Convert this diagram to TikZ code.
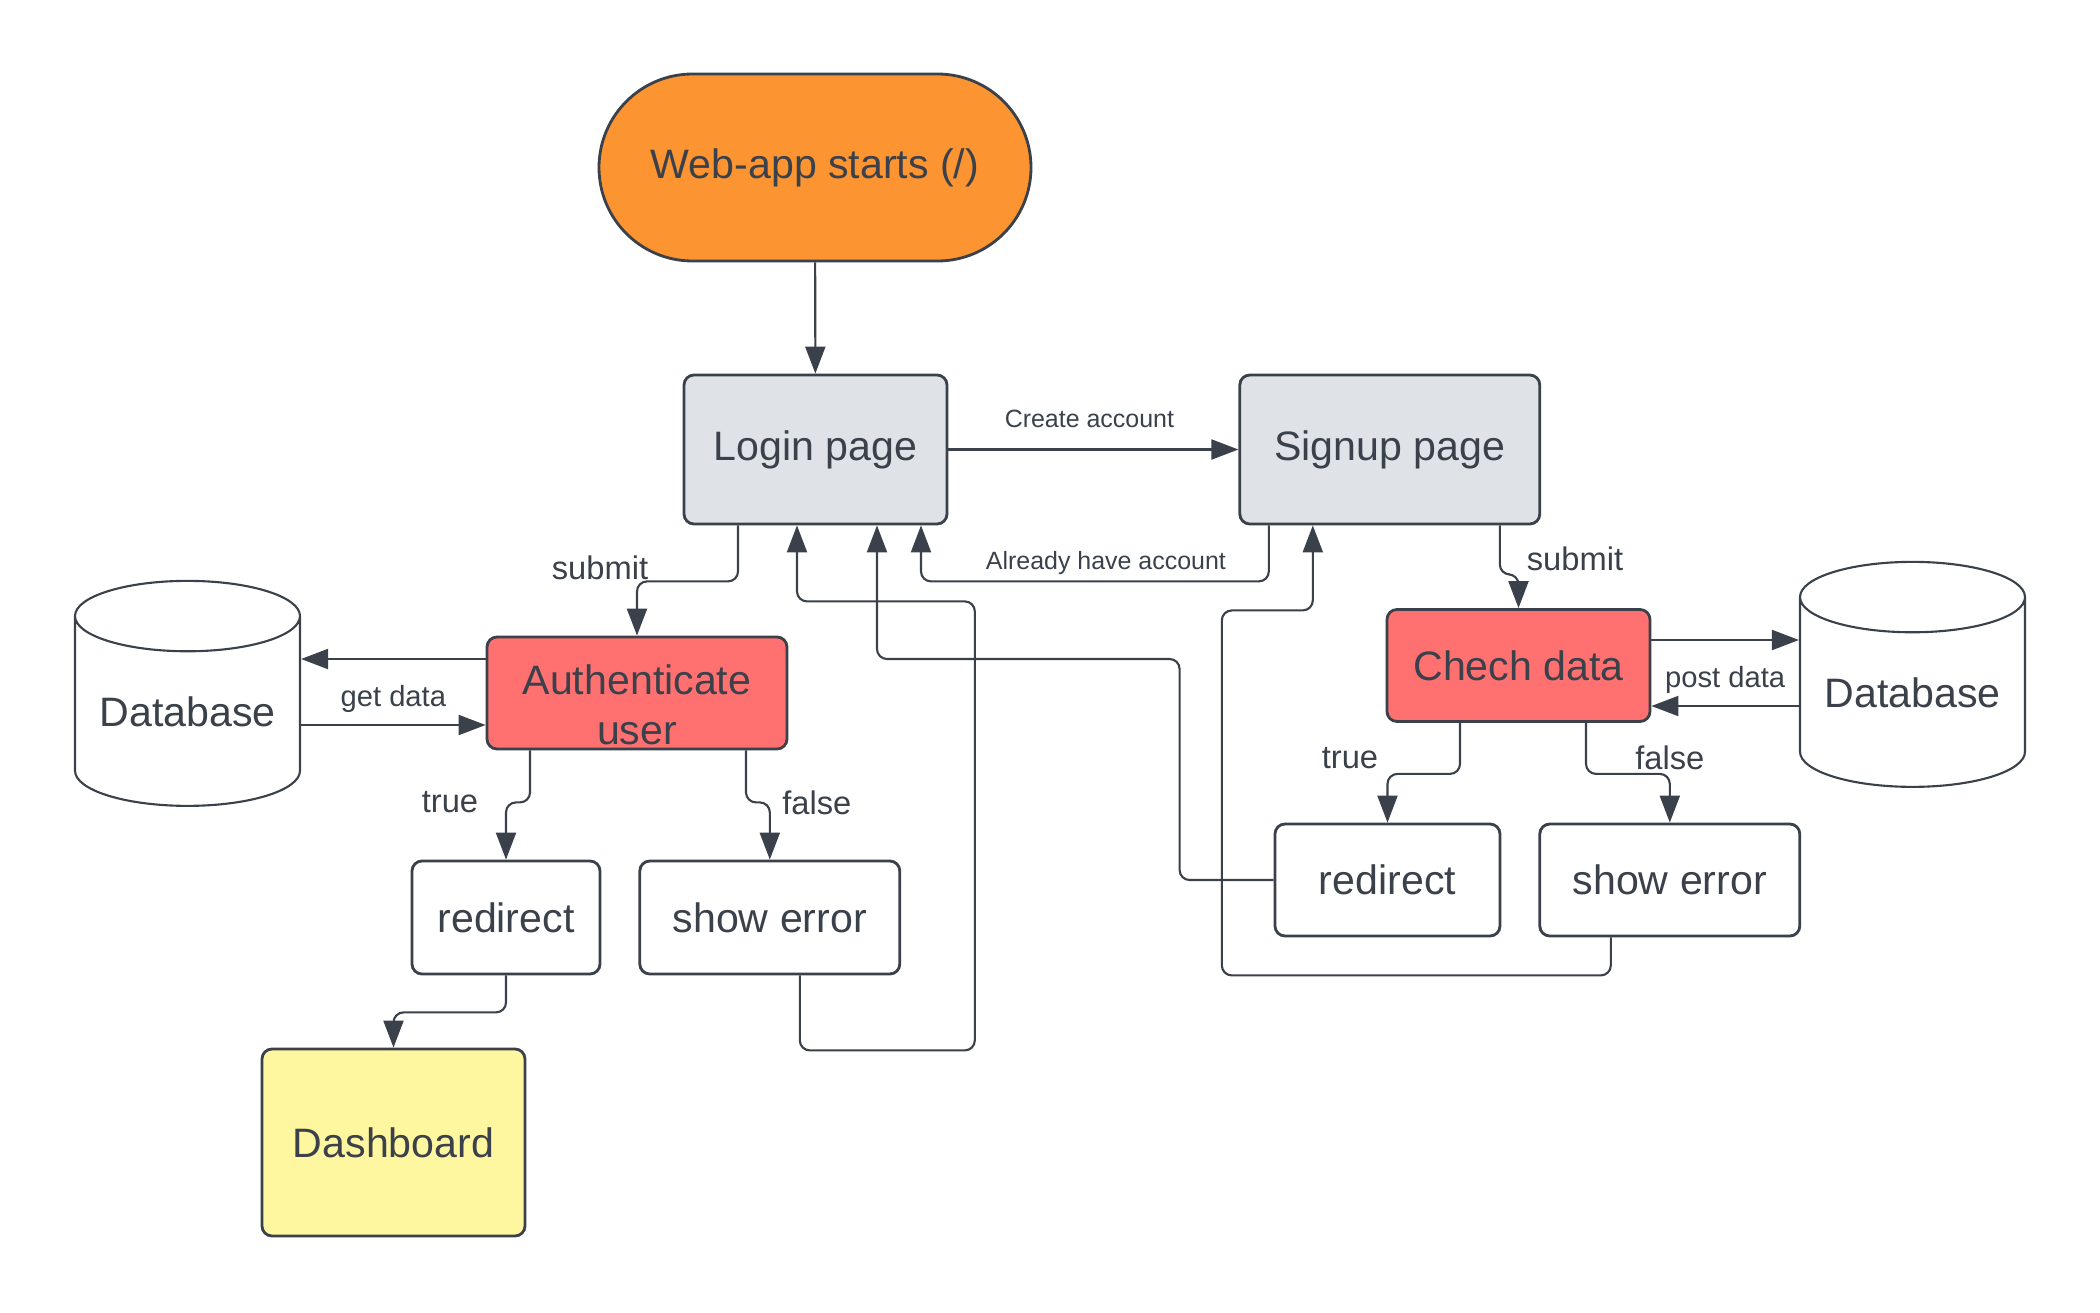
\documentclass[tikz,border=0pt]{standalone}
\usepackage{fontspec}
\setmainfont{Liberation Sans}
\usetikzlibrary{arrows.meta,positioning,shapes.geometric}
\definecolor{ink}{HTML}{3A414A}
\definecolor{startorange}{HTML}{FC9432}
\definecolor{pagegray}{HTML}{DFE3E8}
\definecolor{checkred}{HTML}{FF7070}
\definecolor{dashyellow}{HTML}{FFF6A0}
\tikzset{>={Triangle[length=2.7mm,width=2mm]}}
\tikzset{
  box/.style={draw=ink, line width=0.8pt, rounded corners=1mm, fill=white,
    text=ink, align=center, inner sep=0pt,
    font=\fontsize{11.7}{14.2}\selectfont},
  pagebox/.style={box, fill=pagegray},
  checkbox/.style={box, fill=checkred, minimum height=1.12cm},
  dbcyl/.style={shape=cylinder, shape border rotate=90, aspect=0.4,
    draw=ink, fill=white, line width=0.6pt, minimum width=2.25cm,
    minimum height=2.25cm, inner sep=0pt, text=ink,
    font=\fontsize{11.7}{14.2}\selectfont},
  link/.style={->, draw=ink, line width=0.6pt, rounded corners=1mm},
  tag/.style={text=ink, font=\fontsize{9.3}{11}\selectfont},
  smalltag/.style={text=ink, font=\fontsize{7.1}{9}\selectfont},
  datatag/.style={text=ink, font=\fontsize{8.3}{10}\selectfont}
}

\begin{document}
\begin{tikzpicture}
\useasboundingbox (0,0) rectangle (21,-13.13);
% pages
\node[box, fill=startorange, minimum width=4.32cm, minimum height=1.87cm,
  rounded corners=9.35mm] (start) at (8.15,-1.675) {Web-app starts (/)};
\node[pagebox, minimum width=2.63cm, minimum height=1.49cm] (login) at (8.155,-4.495) {Login page};
\node[pagebox, minimum width=3cm, minimum height=1.49cm] (signup) [right=2.9cm of login] {Signup page};
% checks and databases
\node[checkbox, minimum width=3cm] (auth) at (6.37,-6.93) {\rule{0pt}{15pt}Authenticate\\user};
\node[checkbox, minimum width=2.63cm] (check) at (15.185,-6.655) {Chech data};
\node[dbcyl] (db1) at (1.875,-7.115) {Database};
\node[dbcyl] (db2) at (19.125,-6.925) {Database};
% results
\node[box, minimum width=1.88cm, minimum height=1.13cm] (red1) at (5.06,-9.175) {redirect};
\node[box, minimum width=2.6cm, minimum height=1.13cm] (err1) [right=0.37cm of red1] {show error};
\node[box, minimum width=2.25cm, minimum height=1.12cm] (red2) at (13.875,-8.80) {redirect};
\node[box, minimum width=2.6cm, minimum height=1.12cm] (err2) [right=0.37cm of red2] {show error};
\node[box, fill=dashyellow, minimum width=2.63cm, minimum height=1.87cm] (dash) at (3.935,-11.425) {Dashboard};

\draw[link] (start) -- (login);
\draw[link] (login) -- node[smalltag, yshift=3.1mm, xshift=-0.4mm] {Create account} (signup);
\draw[link] ([xshift=-12.1mm]signup.south) -- ++(0,-0.56)
  -| node[smalltag, pos=0.25, yshift=1.8mm, xshift=1.1mm] {Already have account} ([xshift=10.55mm]login.south);
\draw[link] ([xshift=-7.75mm]login.south) -- ++(0,-0.56)
  -| node[tag, pos=0.5, xshift=-3.7mm, yshift=1.4mm] {submit} (auth.north);
% login side
\draw[link] ([yshift=3.4mm]auth.west) -- ([yshift=3.4mm]auth.west -| db1.east);
\draw[link] ([yshift=-3.2mm]auth.west -| db1.east) -- node[datatag, yshift=2.6mm] {get data} ([yshift=-3.2mm]auth.west);
\draw[link] ([xshift=-10.7mm]auth.south) -- ++(0,-0.52)
  -| node[tag, pos=0.5, xshift=-5.6mm] {true} (red1.north);
\draw[link] ([xshift=10.9mm]auth.south) -- ++(0,-0.52)
  -| node[tag, pos=0.5, xshift=4.7mm] {false} (err1.north);
\draw[link] (red1.south) -- ++(0,-0.37) -| (dash.north);
\draw[link] ([xshift=3mm]err1.south) -- ++(0,-0.75) -- ++(1.75,0) -- ++(0,4.49)
  -| ([xshift=-1.85mm]login.south);
% signup side
\draw[link] (red2.west) -- ++(-0.94,0) -- ++(0,2.21) -| ([xshift=6.15mm]login.south);
\draw[link] ([xshift=-5.9mm]err2.south) -- ++(0,-0.38) -- ++(-3.89,0) -- ++(0,3.65)
  -| ([xshift=-7.7mm]signup.south);
\draw[link] ([xshift=11mm]signup.south) -- ++(0,-0.49)
  -| node[tag, pos=0.5, xshift=5.65mm, yshift=1.6mm] {submit} (check.north);
\draw[link] ([yshift=2.55mm]check.east) -- ([yshift=2.55mm]check.east -| db2.west);
\draw[link] ([yshift=-4.05mm]check.east -| db2.west) -- node[datatag, yshift=2.6mm] {post data} ([yshift=-4.05mm]check.east);
\draw[link] ([xshift=-5.85mm]check.south) -- ++(0,-0.51)
  -| node[tag, pos=0.5, xshift=-3.75mm, yshift=1.6mm] {true} (red2.north);
\draw[link] ([xshift=6.75mm]check.south) -- ++(0,-0.51)
  -| node[tag, pos=0.5, yshift=1.6mm] {false} (err2.north);
\end{tikzpicture}
\end{document}
